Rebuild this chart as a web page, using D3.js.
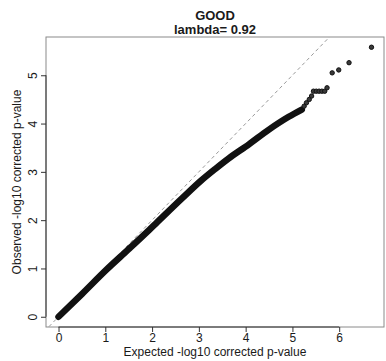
<!DOCTYPE html>
<html>
<head>
<meta charset="utf-8">
<script src="https://cdn.jsdelivr.net/npm/d3@7/dist/d3.min.js"></script>
<style>
  html, body { margin: 0; padding: 0; background: #fff; }
  svg text { font-family: "Liberation Sans", Arial, Helvetica, sans-serif; fill: #1a1a1a; }
</style>
</head>
<body>
<svg id="chart" width="386" height="361"></svg>
<script>
// Q-Q plot of corrected p-values: expected vs observed -log10 p.
const chartTitle = "GOOD";
const chartSubtitle = "lambda= 0.92";
const xLabel = "Expected -log10 corrected p-value";
const yLabel = "Observed -log10 corrected p-value";

// Dense body of the distribution (millions of overlapping points form a band)
const bandExpected = [0.00, 0.50, 1.02, 1.50, 1.94, 2.08, 2.65, 3.05, 3.35, 3.64, 4.07, 4.49, 4.92, 5.20];
const bandObserved = [0.00, 0.47, 0.97, 1.40, 1.80, 1.93, 2.46, 2.82, 3.06, 3.28, 3.57, 3.87, 4.14, 4.29];

// Sparse upper tail, one point per test
const tailExpected = [5.25, 5.30, 5.36, 5.41, 5.45, 5.51, 5.57, 5.63, 5.69, 5.74, 5.85, 5.99, 6.21, 6.69];
const tailObserved = [4.36, 4.43, 4.50, 4.57, 4.67, 4.67, 4.67, 4.67, 4.67, 4.74, 5.05, 5.11, 5.26, 5.58];

const xTicks = [0, 1, 2, 3, 4, 5, 6];
const yTicks = [0, 1, 2, 3, 4, 5];

const plot = { left: 46, right: 384, top: 37, bottom: 327 };

const svg = d3.select("#chart");

// R-style 4% padding around the data range
const xMax = d3.max(tailExpected), yMax = d3.max(tailObserved);
const x = d3.scaleLinear().domain([-0.04 * xMax, 1.04 * xMax]).range([plot.left, plot.right]);
const y = d3.scaleLinear().domain([-0.038 * yMax, 1.038 * yMax]).range([plot.bottom, plot.top]);

svg.append("clipPath").attr("id", "plotClip")
  .append("rect")
  .attr("x", plot.left).attr("y", plot.top)
  .attr("width", plot.right - plot.left).attr("height", plot.bottom - plot.top);

const inner = svg.append("g").attr("clip-path", "url(#plotClip)");

// Reference line y = x
const lineEnds = [x.domain()[0] - 1, x.domain()[1] + 1];
inner.append("line")
  .attr("x1", x(lineEnds[0])).attr("y1", y(lineEnds[0]))
  .attr("x2", x(lineEnds[1])).attr("y2", y(lineEnds[1]))
  .attr("stroke", "#999").attr("stroke-width", 1)
  .attr("stroke-dasharray", "3.5,3");

// Dense band
const band = d3.line()
  .x((d, i) => x(bandExpected[i]))
  .y((d, i) => y(bandObserved[i]))
  .curve(d3.curveMonotoneX);
inner.append("path")
  .datum(bandExpected)
  .attr("d", band)
  .attr("fill", "none")
  .attr("stroke", "#111")
  .attr("stroke-width", 6.5)
  .attr("stroke-linecap", "round")
  .attr("stroke-linejoin", "round");

// Tail points
inner.selectAll("circle.tail")
  .data(tailExpected)
  .join("circle")
  .attr("class", "tail")
  .attr("cx", (d, i) => x(tailExpected[i]))
  .attr("cy", (d, i) => y(tailObserved[i]))
  .attr("r", 2.2)
  .attr("fill", "#3a3a3a")
  .attr("stroke", "#111")
  .attr("stroke-width", 1);

// Frame
svg.append("rect")
  .attr("x", plot.left).attr("y", plot.top)
  .attr("width", plot.right - plot.left).attr("height", plot.bottom - plot.top)
  .attr("fill", "none").attr("stroke", "#8a8a8a").attr("stroke-width", 1);

// Axes (R-style: line spans first to last tick)
const xAxis = d3.axisBottom(x).tickValues(xTicks).tickFormat(d3.format("d")).tickSize(5).tickPadding(1);
const gx = svg.append("g").attr("transform", `translate(0,${plot.bottom})`).call(xAxis);
gx.select(".domain").remove();
gx.append("line")
  .attr("x1", x(xTicks[0])).attr("x2", x(xTicks[xTicks.length - 1]))
  .attr("stroke", "#333");
gx.selectAll(".tick line").attr("stroke", "#333");
gx.selectAll(".tick text").attr("font-size", 12).attr("fill", "#1a1a1a");

const yAxis = d3.axisLeft(y).tickValues(yTicks).tickFormat(d3.format("d")).tickSize(5).tickPadding(3);
const gy = svg.append("g").attr("transform", `translate(${plot.left},0)`).call(yAxis);
gy.select(".domain").remove();
gy.append("line")
  .attr("y1", y(yTicks[0])).attr("y2", y(yTicks[yTicks.length - 1]))
  .attr("stroke", "#333");
gy.selectAll(".tick line").attr("stroke", "#333");
gy.selectAll(".tick text")
  .attr("font-size", 12).attr("fill", "#1a1a1a")
  .attr("x", null).attr("dy", null)
  .attr("text-anchor", "middle")
  .attr("transform", "translate(-13.5,0) rotate(-90)")
  .attr("dominant-baseline", "central");

// Axis titles
svg.append("text")
  .attr("x", (plot.left + plot.right) / 2).attr("y", 356)
  .attr("text-anchor", "middle").attr("font-size", 12)
  .text(xLabel);
svg.append("text")
  .attr("transform", `translate(21,${(plot.top + plot.bottom) / 2}) rotate(-90)`)
  .attr("text-anchor", "middle").attr("font-size", 12)
  .text(yLabel);

// Titles
svg.append("text")
  .attr("x", (plot.left + plot.right) / 2).attr("y", 20)
  .attr("text-anchor", "middle").attr("font-size", 13).attr("font-weight", "bold")
  .text(chartTitle);
svg.append("text")
  .attr("x", (plot.left + plot.right) / 2).attr("y", 34)
  .attr("text-anchor", "middle").attr("font-size", 13).attr("font-weight", "bold")
  .text(chartSubtitle);
</script>
</body>
</html>
